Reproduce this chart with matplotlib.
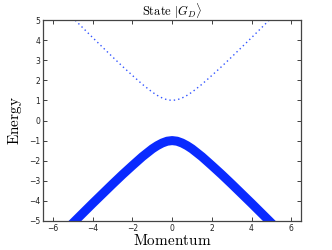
import numpy as np
import matplotlib
matplotlib.use("Agg")
import matplotlib.pyplot as plt

plt.rcParams['mathtext.fontset'] = 'cm'

# Momentum samples and energies
momentum = [-5.2, -5.0, -4.5, -4.0, -3.5, -3.0, -2.5, -2.0, -1.5, -1.0, -0.75, -0.5, -0.25,
            0.0, 0.25, 0.5, 0.75, 1.0, 1.5, 2.0, 2.5, 3.0, 3.5, 4.0, 4.5, 5.0, 5.2]
upper_energy = [5.3, 5.1, 4.61, 4.12, 3.64, 3.16, 2.69, 2.24, 1.8, 1.41, 1.25, 1.12, 1.03,
                1.0, 1.03, 1.12, 1.25, 1.41, 1.8, 2.24, 2.69, 3.16, 3.64, 4.12, 4.61, 5.1, 5.3]
lower_energy = [-5.3, -5.1, -4.61, -4.12, -3.64, -3.16, -2.69, -2.24, -1.8, -1.41, -1.25, -1.12, -1.03,
                -1.0, -1.03, -1.12, -1.25, -1.41, -1.8, -2.24, -2.69, -3.16, -3.64, -4.12, -4.61, -5.1, -5.3]
xticks = [-6, -4, -2, 0, 2, 4, 6]
yticks = [-5, -4, -3, -2, -1, 0, 1, 2, 3, 4, 5]

fig = plt.figure(figsize=(3.32, 2.5), dpi=100)
ax = fig.add_axes([0.13, 0.116, 0.777, 0.804])

ax.plot(momentum, upper_energy, linestyle=(0, (1, 2.2)), color='#3355ff', linewidth=1.0)
ax.plot(momentum, lower_energy, linestyle='-', color='#0a2aff', linewidth=6.5,
        solid_capstyle='butt', solid_joinstyle='round')

ax.set_xlim(-6.5, 6.5)
ax.set_ylim(-5, 5)
ax.set_xticks(xticks)
ax.set_yticks(yticks)
ax.set_xticklabels([str(v).replace('-', '\u2212') for v in xticks])
ax.set_yticklabels([str(v).replace('-', '\u2212') for v in yticks])
ax.tick_params(direction='in', length=3, width=0.6, labelsize=5.5, colors='#222222',
               top=True, right=True, pad=2)
for s in ax.spines.values():
    s.set_linewidth(0.9)
    s.set_color('#444444')

ax.set_title(r'$\mathrm{State}\ |G_D\rangle$', fontsize=9, pad=3)
ax.set_xlabel(r'$\mathrm{Momentum}$', fontsize=11, labelpad=0)
ax.set_ylabel(r'$\mathrm{Energy}$', fontsize=11, labelpad=4)

fig.savefig('out.png', dpi=100)
